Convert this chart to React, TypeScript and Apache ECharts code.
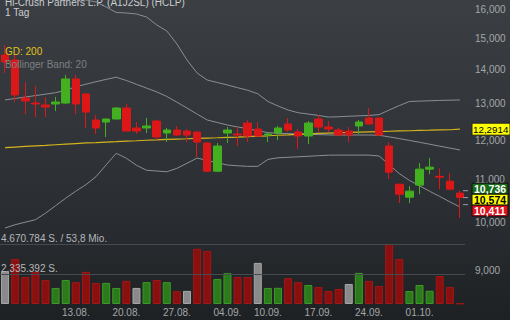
import { useEffect, useRef } from "react";
import * as echarts from "echarts";

const dates = [
  "02.08.", "03.08.", "06.08.", "07.08.", "08.08.", "09.08.", "10.08.",
  "13.08.", "14.08.", "15.08.", "16.08.", "17.08.",
  "20.08.", "21.08.", "22.08.", "23.08.", "24.08.",
  "27.08.", "28.08.", "29.08.", "30.08.", "31.08.",
  "04.09.", "05.09.", "06.09.", "07.09.",
  "10.09.", "11.09.", "12.09.", "13.09.", "14.09.",
  "17.09.", "18.09.", "19.09.", "20.09.", "21.09.",
  "24.09.", "25.09.", "26.09.", "27.09.", "28.09.",
  "01.10.", "02.10.", "03.10.", "04.10.", "05.10.",
];

const openPrices = [
  14.469, 14.311, 13.164, 13.019, 12.962, 12.991, 13.019, 13.726, 13.28, 12.542,
  12.486, 12.569, 12.877, 12.323, 12.323, 12.514, 12.188, 12.268, 12.241, 12.215,
  11.922, 11.207, 12.188, 12.161, 12.459, 12.295, 12.134, 12.188, 12.432, 12.215,
  12.108, 12.569, 12.35, 12.268, 12.241, 12.377, 12.597, 12.597, 11.844, 10.891,
  10.584, 10.868, 11.257, 11.08, 10.963, 10.678,
];
const closePrices = [
  14.248, 13.251, 13.077, 12.991, 12.905, 13.048, 13.726, 12.991, 12.763, 12.323,
  12.569, 12.877, 12.241, 12.241, 12.377, 12.081, 12.268, 12.134, 12.134, 11.948,
  11.207, 11.844, 12.268, 12.134, 12.108, 12.108, 12.161, 12.323, 12.268, 12.108,
  12.459, 12.35, 12.295, 12.134, 12.134, 12.486, 12.432, 12.134, 11.182, 10.654,
  10.725, 11.257, 11.306, 11.06, 10.772, 10.574,
];
const lowPrices = [
  13.908, 13.048, 12.707, 12.623, 12.623, 12.791, 12.99, 12.707, 12.323, 12.161,
  12.081, 12.56, 12.23, 12.161, 12.188, 12.001, 11.948, 12.108, 11.948, 11.56,
  11.182, 11.182, 11.922, 11.844, 11.948, 12.081, 11.948, 12.001, 12.215, 11.766,
  11.896, 12.215, 12.215, 12.108, 11.948, 12.161, 12.432, 12.108, 11.012, 10.445,
  10.445, 10.654, 11.134, 10.772, 10.749, 10.11,
];
const highPrices = [
  14.791, 14.469, 13.635, 13.516, 13.193, 13.193, 13.847, 13.847, 13.3, 12.679,
  12.58, 12.905, 12.991, 12.486, 12.597, 12.542, 12.323, 12.377, 12.295, 12.23,
  11.948, 11.922, 12.35, 12.35, 12.542, 12.486, 12.188, 12.377, 12.597, 12.295,
  12.514, 12.679, 12.514, 12.323, 12.35, 12.542, 12.877, 12.597, 11.948, 10.9,
  10.844, 11.408, 11.534, 11.281, 11.158, 10.736,
];
const volumes = [
  2550000, 3500000, 2100000, 2500000, 1870000, 1250000, 1870000, 1700000, 2500000, 1630000,
  1640000, 1250000, 1800000, 1250000, 1700000, 1870000, 1700000, 1000000, 1020000, 4300000,
  4130000, 1950000, 2400000, 2100000, 2100000, 3200000, 1250000, 1260000, 2020000, 1700000,
  1480000, 1320000, 1010000, 1170000, 1560000, 2420000, 1800000, 1400000, 4670784, 3500000,
  1010000, 1480000, 1030000, 2180000, 1320000, 40000,
];
const gd200 = [
  11.802, 11.817, 11.833, 11.849, 11.861, 11.877, 11.893, 11.908, 11.924, 11.934,
  11.947, 11.958, 11.971, 11.982, 11.995, 12.005, 12.019, 12.027, 12.035, 12.045,
  12.053, 12.061, 12.072, 12.08, 12.09, 12.104, 12.114, 12.128, 12.139, 12.152,
  12.163, 12.176, 12.187, 12.195, 12.203, 12.211, 12.219, 12.227, 12.235, 12.244,
  12.249, 12.257, 12.263, 12.27, 12.276, 12.2914,
];
const bbUpper = [
  16.404, 16.44, 16.476, 16.476, 16.44, 16.44, 16.404, 16.368, 16.331, 16.26,
  16.082, 15.888, 15.87, 15.835, 15.731, 15.458, 15.255, 14.825, 14.311, 13.908,
  13.695, 13.62, 13.546, 13.466, 13.389, 13.286, 13.063, 12.934, 12.82, 12.744,
  12.707, 12.668, 12.623, 12.632, 12.646, 12.657, 12.668, 12.69, 12.82, 12.945,
  13.063, 13.074, 13.083, 13.094, 13.1, 13.107,
];
const bbMiddle = [
  13.107, 13.15, 13.191, 13.234, 13.275, 13.319, 13.392, 13.495, 13.569, 13.644,
  13.714, 13.78, 13.68, 13.566, 13.454, 13.342, 13.208, 13.044, 12.875, 12.706,
  12.542, 12.473, 12.404, 12.352, 12.304, 12.247, 12.199, 12.18, 12.172, 12.164,
  12.153, 12.145, 12.137, 12.134, 12.134, 12.134, 12.134, 12.129, 12.084, 12.039,
  11.991, 11.942, 11.892, 11.84, 11.791, 11.742,
];
const bbLower = [
  9.89, 9.962, 10.017, 10.072, 10.217, 10.387, 10.56, 10.725, 10.879, 11.072,
  11.363, 11.657, 11.529, 11.353, 11.229, 11.211, 11.192, 11.276, 11.403, 11.534,
  11.476, 11.416, 11.359, 11.341, 11.326, 11.326, 11.499, 11.542, 11.554, 11.567,
  11.58, 11.595, 11.608, 11.61, 11.61, 11.61, 11.61, 11.587, 11.366, 11.148,
  10.981, 10.851, 10.722, 10.601, 10.476, 10.358,
];

const priceTicks = [9, 10, 11, 12, 13, 14, 15, 16];
const dateTicks = ["13.08.", "20.08.", "27.08.", "04.09.", "10.09.", "17.09.", "24.09.", "01.10."];
const volumeMax = 4670784;
const volumeLevels = [4670784, 2335392];
const turnoverMio = 53.8;
const quoteTags = [10.736, 10.574, 10.411];
const gdLast = 12.2914;

const FONT = "'Liberation Sans', Arial, sans-serif";
const RED = "#dc1717";
const GREEN = "#43b020";

const fmtPrice = (v: number, d = 3) => v.toFixed(d).replace(".", ",");
const fmtInt = (v: number) => String(Math.round(v)).replace(/\B(?=(\d{3})+(?!\d))/g, ".");

export default function App() {
  const ref = useRef<HTMLDivElement>(null);

  useEffect(() => {
    if (!ref.current) return;
    const chart = echarts.init(ref.current, undefined, { renderer: "svg" });

    const candles = dates.map((_, i) => [openPrices[i], closePrices[i], lowPrices[i], highPrices[i]]);
    const volData = volumes.map((v, i) => {
      let c = "#8a8a8a", b = "#a6a6a6";
      if (i > 0 && closePrices[i] > closePrices[i - 1]) { c = "#2c7a1b"; b = "#3c9a27"; }
      else if (i > 0 && closePrices[i] < closePrices[i - 1]) { c = "#8a1010"; b = "#a31616"; }
      return { value: v, itemStyle: { color: c, borderColor: b, borderWidth: 1 } };
    });

    const lineSeries = (name: string, data: number[], color: string, width = 1) => ({
      name, type: "line", xAxisIndex: 0, yAxisIndex: 0, data, symbol: "none",
      lineStyle: { color, width }, silent: true, z: 2,
    });

    const option: any = {
      animation: false,
      grid: [
        { left: 0, right: 45, top: 0, height: 280 },
        { left: 0, right: 45, top: 244, height: 60 },
      ],
      xAxis: [
        {
          type: "category", gridIndex: 0, data: dates,
          axisLine: { show: false }, axisTick: { show: false }, axisLabel: { show: false }, splitLine: { show: false },
        },
        {
          type: "category", gridIndex: 1, data: dates,
          axisLine: { show: false }, axisTick: { show: false }, splitLine: { show: false },
          axisLabel: {
            interval: (_i: number, v: string) => dateTicks.includes(v),
            color: "#a3a7ab", fontSize: 10, fontFamily: FONT, margin: 3,
          },
        },
      ],
      yAxis: [
        {
          type: "log", gridIndex: 0, position: "right", min: 8.821, max: 16.33,
          axisLine: { show: false }, axisTick: { show: false }, splitLine: { show: false },
          axisLabel: {
            customValues: priceTicks,
            formatter: (v: number) => fmtPrice(v),
            color: "#a3a7ab", fontSize: 10, fontFamily: FONT, margin: 10,
          },
        },
        { type: "value", gridIndex: 1, min: 0, max: volumeMax, show: false, splitLine: { show: false } },
      ],
      series: [
        lineSeries("BB oben", bbUpper, "#8b8f93"),
        lineSeries("BB Mitte", bbMiddle, "#8b8f93"),
        lineSeries("BB unten", bbLower, "#8b8f93"),
        lineSeries("GD 200", gd200, "#d4b41c", 1.2),
        {
          name: "Kurs", type: "candlestick", xAxisIndex: 0, yAxisIndex: 0, data: candles,
          barWidth: 8, z: 3,
          itemStyle: { color: GREEN, color0: RED, borderColor: GREEN, borderColor0: RED, borderWidth: 1 },
        },
        {
          name: "Volumen", type: "bar", xAxisIndex: 1, yAxisIndex: 1, data: volData, barWidth: 8,
          markLine: {
            silent: true, symbol: ["none", "none"],
            lineStyle: { color: "#464b50", width: 1, type: "solid" },
            label: { position: "insideStartTop", color: "#b4b8bc", fontSize: 10, fontFamily: FONT, distance: [1, 1] },
            data: [
              { yAxis: volumeLevels[0], label: { formatter: `${fmtInt(volumeLevels[0])} S. / ${fmtPrice(turnoverMio, 1)} Mio.` } },
              { yAxis: volumeLevels[1], label: { formatter: `${fmtInt(volumeLevels[1])} S.` } },
            ],
          },
        },
      ],
    };
    chart.setOption(option);

    const yOf = (v: number) => chart.convertToPixel({ yAxisIndex: 0 }, v) as number;
    const tagStyles = [
      { bg: "#18691a", fg: "#ffffff" },
      { bg: "#ffff00", fg: "#000000" },
      { bg: "#e0101c", fg: "#ffffff" },
    ];
    const graphics: any[] = [
      { type: "text", x: 5, y: 2.5, style: { text: "Hi-Crush Partners L.P. (A1J2SL) (HCLP)", fill: "#c9cdd1", fontSize: 10, fontFamily: FONT, verticalAlign: "middle" } },
      { type: "text", x: 5, y: 12.5, style: { text: "1 Tag", fill: "#c9cdd1", fontSize: 10, fontFamily: FONT, verticalAlign: "middle" } },
      { type: "text", x: 5, y: 51.5, z: 10, style: { text: "GD: 200", fill: "#e2c21c", fontSize: 10, fontFamily: FONT, verticalAlign: "middle" } },
      { type: "text", x: 5, y: 64, z: 10, style: { text: "Bollinger Band: 20", fill: "#7c8084", fontSize: 10, fontFamily: FONT, verticalAlign: "middle" } },
    ];
    const gy = yOf(gdLast);
    graphics.push(
      { type: "rect", shape: { x: 472, y: gy - 6, width: 38, height: 12 }, style: { fill: "#ffff00", stroke: "#222", lineWidth: 1 }, z: 20 },
      { type: "text", x: 473, y: gy, z: 21, style: { text: fmtPrice(gdLast, 4), fill: "#000", fontSize: 9.8, fontFamily: FONT, verticalAlign: "middle" } },
    );
    let prev = -Infinity;
    quoteTags.forEach((v, i) => {
      const py = yOf(v);
      const c = i === 0 ? py - 2 : Math.max(py, prev + 11);
      prev = c;
      graphics.push(
        { type: "line", shape: { x1: 463, y1: py, x2: 468, y2: py }, style: { stroke: "#9a9ea2", lineWidth: 1 }, z: 20 },
        { type: "rect", shape: { x: 472, y: c - 5.5, width: 36, height: 11 }, style: { fill: tagStyles[i].bg, stroke: "#111", lineWidth: 1 }, z: 20 },
        { type: "text", x: 474, y: c, z: 21, style: { text: fmtPrice(v), fill: tagStyles[i].fg, fontSize: 10.5, fontWeight: "bold", fontFamily: FONT, verticalAlign: "middle" } },
      );
    });
    chart.setOption({ graphic: graphics });

    return () => chart.dispose();
  }, []);

  return (
    <div
      ref={ref}
      style={{
        position: "fixed", left: 0, top: 0, width: 510, height: 320,
        background: "linear-gradient(180deg, #3b3f43 0%, #303438 45%, #272a2e 75%, #1e2123 100%)",
      }}
    />
  );
}
